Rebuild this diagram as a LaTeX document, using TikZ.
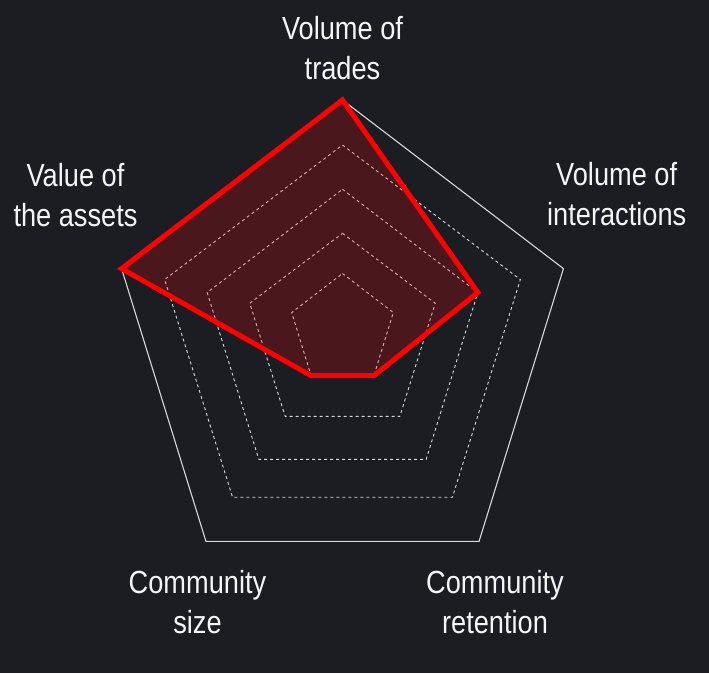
\documentclass[tikz,border=0pt]{standalone}
\usepackage{fontspec}
\setmainfont{Liberation Sans}[FakeStretch=0.85]
\definecolor{bgdark}{RGB}{28,29,35}
\definecolor{gridgray}{RGB}{215,215,220}
\definecolor{labelwhite}{RGB}{245,245,245}
\tikzset{
  gridline/.style={draw=gridgray, line width=0.9pt, dash pattern=on 3pt off 3pt},
  outerline/.style={draw=gridgray, line width=1.1pt},
  datafill/.style={fill=red, fill opacity=0.2},
  dataline/.style={draw=red, line width=5pt, line join=miter},
  lbl/.style={text=labelwhite, font=\fontsize{32}{40}\selectfont, align=center, anchor=base, inner sep=0pt}
}
\begin{document}
\begin{tikzpicture}[x=1pt,y=-1pt]
\fill[bgdark] (0,0) rectangle (709,673);
\useasboundingbox (0,0) rectangle (709,673);
\foreach \k/\rx/\ry/\cy in {1/53.4/56.5/330, 2/97.5/101.2/334.5, 3/142.3/149.3/338.6, 4/187/194.7/339.7, 5/232.3/244/344} {
  \foreach \i/\a in {1/90,2/18,3/-54,4/-126,5/162} {
    \coordinate (p\k-\i) at ({342.5+\rx*cos(\a)},{\cy-\ry*sin(\a)});
  }
}
\foreach \k in {1,...,4} {
  \draw[gridline] (p\k-1) -- (p\k-2) -- (p\k-3) -- (p\k-4) -- (p\k-5) -- cycle;
}
\draw[outerline] (p5-1) -- (p5-2) -- (p5-3) -- (p5-4) -- (p5-5) -- cycle;
\fill[datafill] (p5-1) -- (p3-2) -- (p1-3) -- (p1-4) -- (p5-5) -- cycle;
\draw[dataline] (p5-1) -- (p3-2) -- (p1-3) -- (p1-4) -- (p5-5) -- cycle;
\node[lbl] (trades) at (342.5,79) {Volume of\\trades};
\node[lbl] (interactions) at (616.7,225) {Volume of\\interactions};
\node[lbl] (assets) at (75.5,226.7) {Value of\\the assets};
\node[lbl] (size) at (197.5,633.3) {Community\\size};
\node[lbl] (retention) at (495,633.3) {Community\\retention};
\end{tikzpicture}
\end{document}
